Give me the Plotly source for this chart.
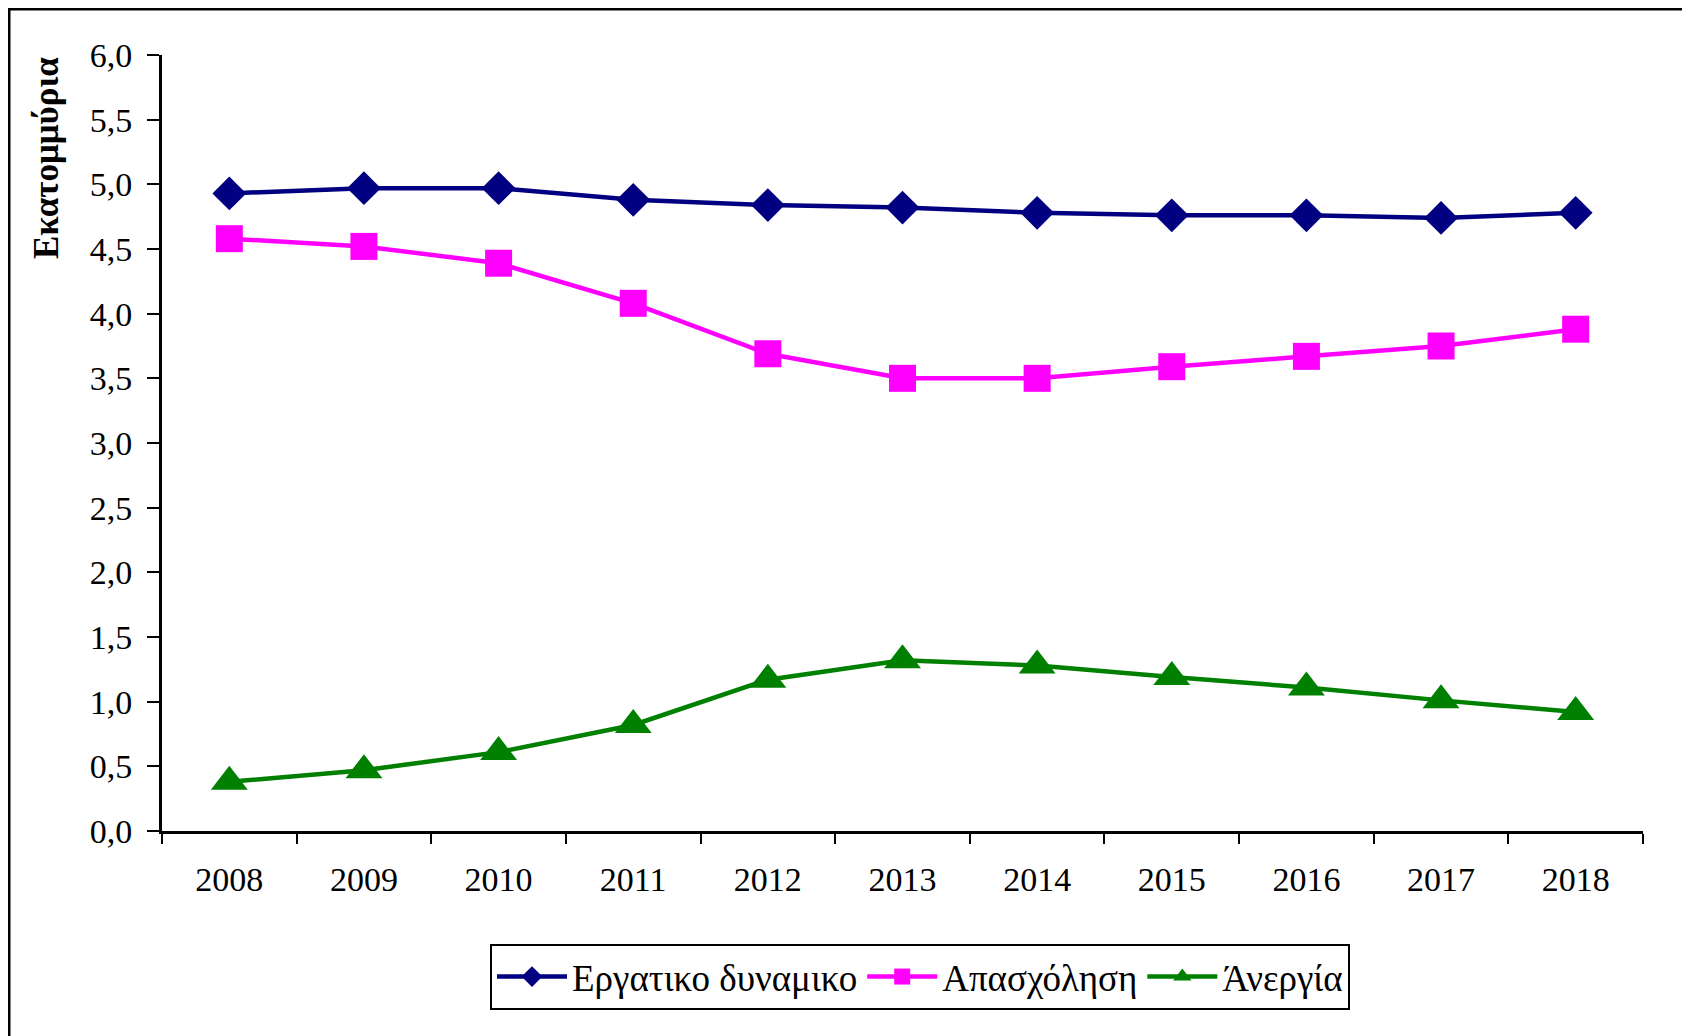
import plotly.graph_objects as go

years = ["2008", "2009", "2010", "2011", "2012", "2013", "2014", "2015", "2016", "2017", "2018"]
ergatiko = [4.93, 4.97, 4.97, 4.88, 4.84, 4.82, 4.78, 4.76, 4.76, 4.74, 4.78]
apasxolisi = [4.58, 4.52, 4.39, 4.08, 3.69, 3.50, 3.50, 3.59, 3.67, 3.75, 3.88]
anergia = [0.38, 0.47, 0.61, 0.82, 1.17, 1.32, 1.28, 1.19, 1.11, 1.01, 0.92]

# page body has an 8px margin, so work in page pixels and shift
OFF = 8
W, H = 1690 - OFF, 1036 - OFF
L, T = 162 - OFF, 55 - OFF
R = W - (1643 - OFF)
B = H - (831 - OFF)
PW, PH = W - L - R, H - T - B
FONT = "Liberation Serif"


def px(x):
    return (x - OFF - L) / PW


def py(y):
    return (H - B - (y - OFF)) / PH


fig = go.Figure()
for name, vals, color, sym, size in [
    ("Εργατικο δυναμικο", ergatiko, "#000080", "diamond", 26),
    ("Απασχόληση", apasxolisi, "#FF00FF", "square", 27),
    ("Άνεργία", anergia, "#008000", "triangle-up", 32),
]:
    fig.add_trace(go.Scatter(
        x=years, y=vals, name=name, mode="lines+markers",
        line=dict(color=color, width=4.5),
        marker=dict(symbol=sym, size=size, color=color),
    ))

fig.update_layout(
    width=W, height=H,
    margin=dict(l=L, r=R, t=T, b=B),
    paper_bgcolor="white", plot_bgcolor="white",
    font=dict(family=FONT, color="black", size=34),
    separators=", ",
    showlegend=True,
    legend=dict(
        orientation="h", x=px(920), xanchor="center", y=py(944), yanchor="top",
        bordercolor="black", borderwidth=2, font=dict(size=37, family=FONT),
        itemwidth=70,
    ),
    annotations=[dict(
        text="<b>Εκατομμύρια</b>", textangle=-90, showarrow=False,
        xref="paper", yref="paper", x=px(47), y=py(158),
        xanchor="center", yanchor="middle", font=dict(size=35, family=FONT),
    )],
    shapes=[dict(
        type="rect", xref="paper", yref="paper",
        x0=px(9), x1=px(1686), y0=py(1060), y1=py(9),
        line=dict(color="black", width=3), layer="below",
    )],
)
fig.update_xaxes(
    type="category", range=[-0.5, 10.5], tickson="boundaries",
    ticks="outside", ticklen=10, tickwidth=2, tickcolor="black",
    showline=True, linewidth=3, linecolor="black", showgrid=False,
    ticklabelstandoff=16, tickfont=dict(size=34),
)
fig.update_yaxes(
    range=[0, 6], dtick=0.5, tickformat=".1f",
    ticks="outside", ticklen=12, tickwidth=2, tickcolor="black",
    showline=True, linewidth=3, linecolor="black", showgrid=False, zeroline=False,
    ticklabelstandoff=8, tickfont=dict(size=34),
)

fig.write_html("out.html")
